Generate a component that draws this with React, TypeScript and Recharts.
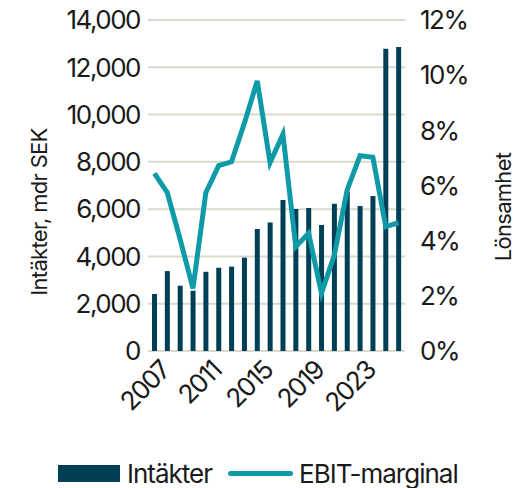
import React from 'react';
import { ComposedChart, Bar, Line, XAxis, YAxis, CartesianGrid, Legend, Label } from 'recharts';

const years = [
  '2007', '2008', '2009', '2010', '2011', '2012', '2013', '2014', '2015', '2016',
  '2017', '2018', '2019', '2020', '2021', '2022', '2023', '2024', '2025', '2026'
];

// Intäkter, mdr SEK
const revenue = [
  2410, 3380, 2760, 2550, 3350, 3520, 3570, 3950, 5160, 5430,
  6390, 6010, 6050, 5330, 6230, 6750, 6130, 6560, 12780, 12860
];

// EBIT-marginal, %
const margin = [
  6.44, 5.74, 4.05, 2.27, 5.74, 6.72, 6.86, 8.26, 9.79, 6.83,
  7.86, 3.78, 4.27, 2.09, 3.48, 5.84, 7.08, 7.02, 4.51, 4.65
];

const leftTicks = [0, 2000, 4000, 6000, 8000, 10000, 12000, 14000];
const rightTicks = [0, 2, 4, 6, 8, 10, 12];

const data = years.map((year, i) => ({ year, revenue: revenue[i], margin: margin[i] }));

const BAR_COLOR = '#003f55';
const LINE_COLOR = '#0f9aa8';
const GRID_COLOR = '#d9d9cc';
const TEXT_COLOR = '#1a1a1a';
const FONT = 'Inter, "Noto Sans", sans-serif';

const tickStyle = { fontSize: 26, fill: TEXT_COLOR, letterSpacing: -1.5 };

const YearTick = (props: any) => {
  const { x, y, payload } = props;
  return (
    <g transform={`translate(${x + 5},${y + 1})`}>
      <text
        textAnchor="end"
        transform="rotate(-45)"
        dy={17}
        fontSize={26}
        fill={TEXT_COLOR}
        letterSpacing={-1.5}
        fontFamily={FONT}
      >
        {payload.value}
      </text>
    </g>
  );
};

const renderLegend = () => (
  <div style={styles.legend}>
    <span style={styles.legendBox} />
    <span style={{ marginLeft: 7 }}>Intäkter</span>
    <span style={styles.legendLine} />
    <span style={{ marginLeft: 6 }}>EBIT-marginal</span>
  </div>
);

const App: React.FC = () => {
  return (
    <div style={styles.wrapper}>
      <ComposedChart
        width={520}
        height={488}
        data={data}
        margin={{ top: 20, right: 0, bottom: 0, left: 0 }}
        style={{ fontFamily: FONT }}
      >
        <CartesianGrid yAxisId="left" vertical={false} stroke={GRID_COLOR} strokeWidth={2} />
        <XAxis
          dataKey="year"
          interval={3}
          axisLine={false}
          tickLine={false}
          height={107}
          tick={<YearTick />}
        />
        <YAxis
          yAxisId="left"
          width={148}
          domain={[0, 14000]}
          ticks={leftTicks}
          axisLine={false}
          tickLine={false}
          tick={tickStyle}
          tickFormatter={(v: number) => v.toLocaleString('en-US')}
        >
          <Label
            content={() => (
              <text
                transform="translate(47,212) rotate(-90)"
                textAnchor="middle"
                fontSize={22}
                fill={TEXT_COLOR}
                fontFamily={FONT}
                letterSpacing={-0.7}
              >
                Intäkter, mdr SEK
              </text>
            )}
          />
        </YAxis>
        <YAxis
          yAxisId="right"
          orientation="right"
          width={115}
          domain={[0, 12]}
          ticks={rightTicks}
          axisLine={false}
          tickLine={false}
          tickMargin={9}
          tick={tickStyle}
          tickFormatter={(v: number) => `${v}%`}
        >
          <Label
            content={() => (
              <text
                transform="translate(511,207) rotate(-90)"
                textAnchor="middle"
                fontSize={22}
                fill={TEXT_COLOR}
                fontFamily={FONT}
                letterSpacing={-0.7}
              >
                Lönsamhet
              </text>
            )}
          />
        </YAxis>
        <Bar yAxisId="left" dataKey="revenue" name="Intäkter" fill={BAR_COLOR} barSize={5} isAnimationActive={false} />
        <Line
          yAxisId="right"
          dataKey="margin"
          name="EBIT-marginal"
          stroke={LINE_COLOR}
          strokeWidth={5}
          dot={false}
          type="linear"
          isAnimationActive={false}
        />
        <Legend verticalAlign="bottom" content={renderLegend} />
      </ComposedChart>
    </div>
  );
};

const styles = {
  wrapper: {
    position: 'absolute' as const,
    left: 0,
    top: 0,
    width: 520,
    height: 488,
    background: 'white'
  },
  legend: {
    display: 'flex',
    alignItems: 'center',
    height: 30,
    paddingLeft: 58,
    fontSize: 26,
    letterSpacing: -1,
    color: TEXT_COLOR,
    fontFamily: FONT
  },
  legendBox: {
    display: 'inline-block',
    width: 62,
    height: 17,
    background: BAR_COLOR
  },
  legendLine: {
    display: 'inline-block',
    width: 65,
    height: 5,
    borderRadius: 3,
    background: LINE_COLOR,
    marginLeft: 16
  }
};

export default App;
